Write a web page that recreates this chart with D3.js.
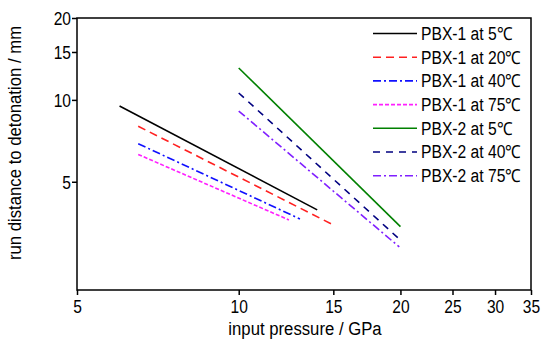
<!DOCTYPE html>
<html><head><meta charset="utf-8">
<script src="https://cdn.jsdelivr.net/npm/d3@7"></script>
<style>body{margin:0;background:#fff;}svg{display:block;font-family:"Liberation Sans",Arial,sans-serif;}</style>
</head><body><svg id="c" width="541" height="341"></svg>
<script>
const seriesNames = ["PBX-1 at 5℃","PBX-1 at 20℃","PBX-1 at 40℃","PBX-1 at 75℃","PBX-2 at 5℃","PBX-2 at 40℃","PBX-2 at 75℃"];
const pressureStart = [6.0, 6.5, 6.5, 6.5, 10, 10, 10];
const pressureEnd   = [14.0, 15.0, 13.0, 12.4, 20, 20, 19.9];
const distStart = [9.5, 8.0, 6.9, 6.3, 13.1, 10.6, 9.1];
const distEnd   = [3.94, 3.47, 3.65, 3.62, 3.42, 3.05, 2.88];
const xTicks = [5,10,15,20,25,30,35];
const yTicks = [5,10,15,20];
const colors = ["#000000","#ff2020","#1010ff","#ff20ff","#008000","#000080","#8020ff"];
const dashes = ["none","8,5","8,3,2,3","4,2","none","7,6","8,3,2,3"];

const svg = d3.select("#c");
const L=77, R=531, T=18, B=290;
const x = d3.scaleLog().domain([5,35]).range([L,R]);
const y = d3.scaleLog().domain([2,20]).range([B,T]);

svg.append("rect").attr("x",L).attr("y",T).attr("width",R-L).attr("height",B-T)
  .attr("fill","none").attr("stroke","#000").attr("stroke-width",1.5);

const TS=0.82;
const xa = svg.append("g").attr("transform",`translate(0,${B})`)
  .call(d3.axisBottom(x).tickValues(xTicks).tickFormat(d3.format("d")).tickSize(5).tickSizeOuter(0));
const ya = svg.append("g").attr("transform",`translate(${L},0)`)
  .call(d3.axisLeft(y).tickValues(yTicks).tickFormat(d3.format("d")).tickSize(5).tickSizeOuter(0));
[xa,ya].forEach(a=>{
  a.select(".domain").remove();
  a.selectAll("line").attr("stroke","#000").attr("stroke-width",1.5);
  a.selectAll("text").attr("font-size",19).attr("fill","#000").attr("font-family","Liberation Sans, Arial, sans-serif")
    .attr("transform",`scale(${TS},1)`);
});
xa.selectAll("text").attr("dy","0.87em").attr("y",6);
ya.selectAll("text").attr("x",-6/TS).attr("dy","0.36em");

svg.append("text").attr("transform",`translate(${(L+R)/2+1},335) scale(0.93,1)`).attr("text-anchor","middle")
  .attr("font-size",18).text("input pressure / GPa");
svg.append("text").attr("transform","translate(21,143) rotate(-90) scale(0.93,1)").attr("text-anchor","middle")
  .attr("font-size",18).text("run distance to detonation / mm");

const line = d3.line().x(d=>x(d[0])).y(d=>y(d[1]));
seriesNames.forEach((n,i)=>{
  svg.append("path").datum([[pressureStart[i],distStart[i]],[pressureEnd[i],distEnd[i]]])
    .attr("d",line).attr("fill","none").attr("stroke",colors[i]).attr("stroke-width",1.6)
    .attr("stroke-dasharray",dashes[i]);
});

const lg = svg.append("g");
seriesNames.forEach((n,i)=>{
  const yy = 33.5 + i*23.7;
  lg.append("line").attr("x1",373).attr("x2",417).attr("y1",yy).attr("y2",yy)
    .attr("stroke",colors[i]).attr("stroke-width",1.6).attr("stroke-dasharray",dashes[i]);
  lg.append("text").attr("transform",`translate(421,${yy}) scale(0.87,1)`).attr("dy","0.36em").attr("font-size",18).text(n);
});
</script></body></html>
